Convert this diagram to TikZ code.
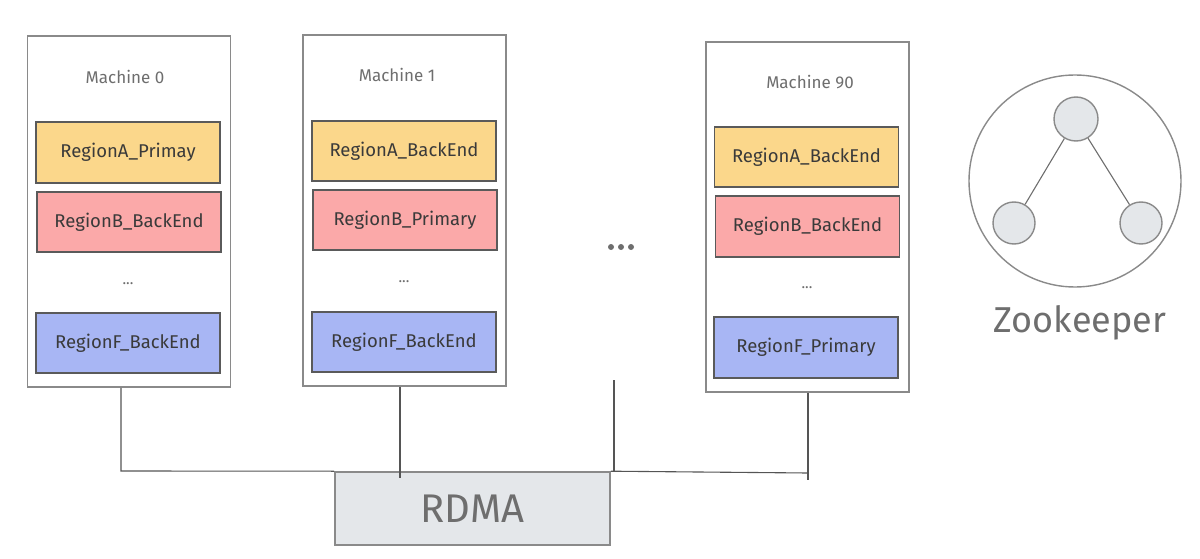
\documentclass[tikz,border=0pt]{standalone}
\usepackage{fontspec}
\setmainfont{Fira Sans}
\definecolor{ya}{HTML}{FBD78B}
\definecolor{rb}{HTML}{FBA9A9}
\definecolor{bf}{HTML}{A8B6F4}
\definecolor{gfill}{HTML}{E4E7EA}
\definecolor{mline}{HTML}{8A8A8A}
\definecolor{rline}{HTML}{5A5A5A}
\definecolor{cline}{HTML}{555555}
\definecolor{txt}{HTML}{3A3A3A}
\definecolor{ltxt}{HTML}{6E6E6E}
\tikzset{
  machine/.style={draw=mline, line width=1.6pt, fill=white, inner sep=0pt, minimum width=203pt, minimum height=351pt},
  region/.style={draw=rline, line width=1.2pt, inner sep=0pt, minimum width=184pt, minimum height=60pt, text=txt, font=\fontsize{18.5}{20}\selectfont},
  mlabel/.style={text=ltxt, font=\fontsize{17}{19}\selectfont, inner sep=0pt},
  vdots/.style={text=ltxt, font=\fontsize{15}{16}\selectfont, inner sep=0pt},
  conn/.style={draw=cline, line width=1.1pt},
  zk/.style={circle, draw=mline, line width=1.4pt, fill=gfill, minimum size=44pt, inner sep=0pt},
}
\begin{document}
\begin{tikzpicture}[x=1pt, y=-1pt]
\useasboundingbox (0,0) rectangle (1200,559);
% Machine 0
\node[machine] (m0) at (129,211.5) {};
\node[mlabel] (m0l) at (125,77) {Machine 0};
\node[region, fill=ya, minimum height=61pt] (m0a) at (128,152.5) {RegionA\_Primay};
\node[region, fill=rb] (m0b) at (129,222) {RegionB\_BackEnd};
\node[vdots] (m0d) at (128,284) {...};
\node[region, fill=bf] (m0f) at (128,343) {RegionF\_BackEnd};
% Machine 1
\node[machine] (m1) at (404.5,210.5) {};
\node[mlabel] (m1l) at (397,75) {Machine 1};
\node[region, fill=ya] (m1a) at (404,151) {RegionA\_BackEnd};
\node[region, fill=rb] (m1b) at (405,220) {RegionB\_Primary};
\node[vdots] (m1d) at (404,282) {...};
\node[region, fill=bf] (m1f) at (404,342) {RegionF\_BackEnd};
% Machine 90
\node[machine, minimum height=350pt] (m90) at (807.5,217) {};
\node[mlabel] (m90l) at (810,82) {Machine 90};
\node[region, fill=ya] (m90a) at (806.5,157) {RegionA\_BackEnd};
\node[region, fill=rb, minimum height=61pt] (m90b) at (807.5,226.5) {RegionB\_BackEnd};
\node[vdots] (m90d) at (807,288) {...};
\node[region, fill=bf, minimum height=61pt] (m90f) at (806,347.5) {RegionF\_Primary};
% ellipsis between machines
\foreach \i/\xx in {1/611,2/621,3/631}{
  \fill[ltxt] (\xx,247) circle (3pt);
}
% RDMA
\node[draw=mline, line width=1.6pt, fill=gfill, minimum width=275pt, minimum height=73pt, inner sep=0pt, text=ltxt, font=\fontsize{40}{42}\selectfont] (rdma) at (472.5,508.5) {RDMA};
% connectors
\coordinate (b0) at (121,471);
\coordinate (b1) at (400,478);
\coordinate (bd) at (614,472);
\coordinate (bdt) at (614,380);
\coordinate (b90) at (808,480);
\coordinate (b90h) at (808,473);
\draw[conn] (b0 |- m0.south) -- (b0) -- (rdma.north west);
\draw[conn] (b1 |- m1.south) -- (b1);
\draw[conn] (bdt) -- (bd);
\draw[conn] (rdma.north east) -- (b90h);
\draw[conn] (b90 |- m90.south) -- (b90);
% Zookeeper
\node[circle, draw=mline, line width=1.4pt, minimum size=212pt, inner sep=0pt] (zkc) at (1075,181) {};
\node[zk] (zt) at (1076,119) {};
\node[zk, minimum size=42pt] (zl) at (1014,223) {};
\node[zk, minimum size=42pt] (zr) at (1141,223) {};
\draw[conn, draw=ltxt] (zt) -- (zl);
\draw[conn, draw=ltxt] (zt) -- (zr);
\node[text=ltxt, font=\fontsize{36}{38}\selectfont, inner sep=0pt] (zkl) at (1080,323) {Zookeeper};
\end{tikzpicture}
\end{document}
